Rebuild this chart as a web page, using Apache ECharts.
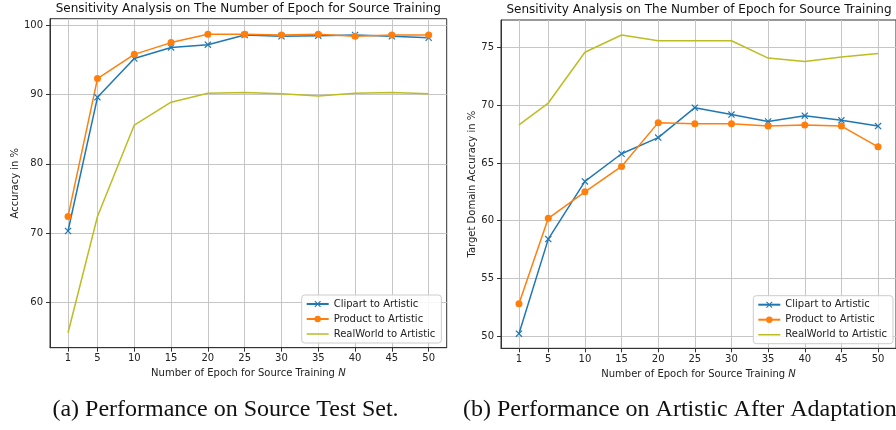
<!DOCTYPE html>
<html><head><meta charset="utf-8">
<script src="https://cdn.jsdelivr.net/npm/echarts@6/dist/echarts.min.js"></script>
<style>html,body{margin:0;padding:0;background:#fff}#c{width:896px;height:430px}</style>
</head><body><div id="c"></div>
<script>
const epochs = [1, 5, 10, 15, 20, 25, 30, 35, 40, 45, 50];
const srcClipart   = [70.3, 89.6, 95.2, 96.8, 97.2, 98.6, 98.4, 98.5, 98.6, 98.4, 98.2];
const srcProduct   = [72.4, 92.3, 95.8, 97.5, 98.7, 98.7, 98.6, 98.7, 98.4, 98.6, 98.6];
const srcRealWorld = [55.6, 72.4, 85.6, 88.9, 90.2, 90.3, 90.1, 89.8, 90.2, 90.3, 90.1];
const tgtClipart   = [50.2, 58.4, 63.4, 65.8, 67.2, 69.8, 69.2, 68.6, 69.1, 68.7, 68.2];
const tgtProduct   = [52.8, 60.2, 62.5, 64.7, 68.5, 68.4, 68.4, 68.2, 68.3, 68.2, 66.4];
const tgtRealWorld = [68.3, 70.2, 74.6, 76.1, 75.6, 75.6, 75.6, 74.1, 73.8, 74.2, 74.5];
const xTicks = [1, 5, 10, 15, 20, 25, 30, 35, 40, 45, 50];
const leftYTicks = [60, 70, 80, 90, 100];
const rightYTicks = [50, 55, 60, 65, 70, 75];
const seriesNames = ['Clipart to Artistic', 'Product to Artistic', 'RealWorld to Artistic'];
const chartTitle = 'Sensitivity Analysis on The Number of Epoch for Source Training';
const xName = 'Number of Epoch for Source Training {i|N}';
const leftYName = 'Accuracy in %';
const rightYName = 'Target Domain Accuracy in %';
const captionA = '(a) Performance on Source Test Set.';
const captionB = '(b) Performance on Artistic After Adaptation.';

const FONT = 'DejaVu Sans';
const colors = ['#1f77b4', '#ff7f0e', '#bcbd22'];
const xSym = 'path://M0,1.2L1.2,0L5,3.8L8.8,0L10,1.2L6.2,5L10,8.8L8.8,10L5,6.2L1.2,10L0,8.8L3.8,5Z';
const lineIcon = 'path://M0,0L0.01,0L0,0.001Z M0,3.25L22,3.25L22,4.75L0,4.75Z M0,8L0.01,8L0,7.999Z';
const GRIDC = '#c6c6c6';

const pairs = arr => epochs.map((e, i) => [e, arr[i]]);

function xAxis(gi) {
  return {
    type: 'value', gridIndex: gi, min: -1.45, max: 52.45,
    name: xName, nameLocation: 'middle', nameGap: 20,
    nameTextStyle: { fontFamily: FONT, fontSize: 10, color: '#222', rich: { i: { fontStyle: 'italic', fontFamily: FONT, fontSize: 10, color: '#222' } } },
    axisLine: { show: true, onZero: false, lineStyle: { color: '#333', width: 1 } },
    axisTick: { show: true, customValues: xTicks, length: 4, lineStyle: { color: '#333' } },
    axisLabel: { customValues: xTicks, margin: 6, fontFamily: FONT, fontSize: 10, color: '#222' },
    splitLine: { show: true, lineStyle: { color: GRIDC, width: 1 } }
  };
}
function yAxis(gi, min, max, ticks, name, gap) {
  return {
    type: 'value', gridIndex: gi, min: min, max: max,
    name: name, nameLocation: 'middle', nameGap: gap,
    nameTextStyle: { fontFamily: FONT, fontSize: 10, color: '#222' },
    axisLine: { show: true, onZero: false, lineStyle: { color: '#333', width: 1 } },
    axisTick: { show: true, customValues: ticks, length: 4, lineStyle: { color: '#333' } },
    axisLabel: { customValues: ticks, margin: 7, fontFamily: FONT, fontSize: 10, color: '#222' },
    splitLine: { show: true, lineStyle: { color: GRIDC, width: 1 } }
  };
}
function mk(name, data, gi, idx) {
  const s = {
    name: name, type: 'line', xAxisIndex: gi, yAxisIndex: gi, data: pairs(data),
    lineStyle: { color: colors[idx], width: 1.5 },
    itemStyle: { color: colors[idx] },
    symbol: 'none', animation: false
  };
  if (idx === 0) { s.symbol = xSym; s.symbolSize = 7; s.showSymbol = true; }
  if (idx === 1) { s.symbol = 'circle'; s.symbolSize = 7; s.showSymbol = true; }
  return s;
}
function legend(left, top) {
  return {
    data: [
      { name: seriesNames[0] },
      { name: seriesNames[1] },
      { name: seriesNames[2], icon: lineIcon, itemStyle: { color: colors[2] } }
    ],
    orient: 'vertical', left: left, top: top,
    itemWidth: 22, itemHeight: 8, itemGap: 3, padding: [3, 6, 3, 4],
    backgroundColor: 'rgba(255,255,255,0.85)', borderColor: '#cccccc', borderWidth: 1, borderRadius: 3,
    textStyle: { fontFamily: FONT, fontSize: 10, color: '#222', lineHeight: 12 },
    selectedMode: false
  };
}

const chart = echarts.init(document.getElementById('c'), null, { renderer: 'canvas' });
chart.setOption({
  animation: false,
  backgroundColor: '#fff',
  grid: [
    { left: 50, top: 18.7, width: 396.7, height: 329, show: true, borderColor: '#333', borderWidth: 1, containLabel: false },
    { left: 501, top: 20, width: 396.3, height: 328.3, show: true, borderColor: '#333', borderWidth: 1, containLabel: false }
  ],
  xAxis: [xAxis(0), xAxis(1)],
  yAxis: [
    yAxis(0, 53.45, 100.95, leftYTicks, leftYName, 30),
    yAxis(1, 48.93, 77.4, rightYTicks, rightYName, 24)
  ],
  legend: [legend(301.7, 295), legend(753.3, 295.7)],
  series: [
    mk(seriesNames[0], srcClipart, 0, 0),
    mk(seriesNames[1], srcProduct, 0, 1),
    mk(seriesNames[2], srcRealWorld, 0, 2),
    mk(seriesNames[0], tgtClipart, 1, 0),
    mk(seriesNames[1], tgtProduct, 1, 1),
    mk(seriesNames[2], tgtRealWorld, 1, 2)
  ],
  graphic: [
    { type: 'text', x: 248.3, y: 9, style: { text: chartTitle, font: '12px "DejaVu Sans"', fill: '#111', textAlign: 'center', textVerticalAlign: 'middle' } },
    { type: 'text', x: 699, y: 10, style: { text: chartTitle, font: '12px "DejaVu Sans"', fill: '#111', textAlign: 'center', textVerticalAlign: 'middle' } },
    { type: 'text', x: 225.5, y: 410, style: { text: captionA, font: '24px "Liberation Serif"', fill: '#111', textAlign: 'center', textVerticalAlign: 'middle' } },
    { type: 'text', x: 463, y: 410, style: { text: captionB, font: '24px "Liberation Serif"', fill: '#111', textAlign: 'left', textVerticalAlign: 'middle' } }
  ]
});
</script>
</body></html>
